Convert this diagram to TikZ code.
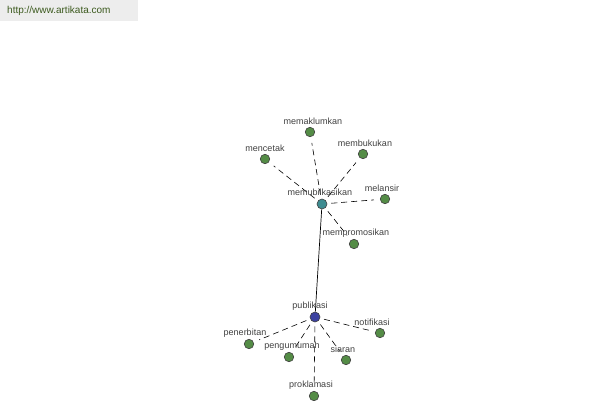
\documentclass[tikz,border=0pt]{standalone}
\usepackage{fontspec}
\setmainfont{Liberation Sans}
\definecolor{leafc}{RGB}{84,140,70}
\definecolor{hubc}{RGB}{62,140,145}
\definecolor{rootc}{RGB}{60,66,160}
\definecolor{urlc}{RGB}{60,90,30}
\begin{document}
\begin{tikzpicture}[x=1pt,y=-1pt,
  leaf/.style={circle,draw=black!75,fill=leafc,line width=0.6pt,minimum size=9.5pt,inner sep=0pt},
  hub/.style={circle,draw=black!75,fill=hubc,line width=0.6pt,minimum size=10pt,inner sep=0pt},
  root/.style={circle,draw=black!75,fill=rootc,line width=0.6pt,minimum size=10pt,inner sep=0pt},
  lbl/.style={font=\fontsize{9}{10}\selectfont,text=black!75,inner sep=0pt},
  dashlink/.style={draw=black,dashed,dash pattern=on 6pt off 4pt,line width=0.6pt,shorten <=4pt,shorten >=6pt},
  solidlink/.style={draw=black,line width=0.7pt}]
\useasboundingbox (0,0) rectangle (600,400);
\fill[black!7] (0,0) rectangle (138,21);
\node[anchor=west,inner sep=0pt,font=\fontsize{10}{11}\selectfont,text=urlc] (url) at (7,11) {http://www.artikata.com};

\node[hub] (h) at (322,204) {};
\node[root] (p) at (315,317) {};
\node[leaf] (a1) at (310,132) {};
\node[leaf] (a2) at (363,154) {};
\node[leaf] (a3) at (265,159) {};
\node[leaf] (a4) at (385,199) {};
\node[leaf] (a5) at (354,244) {};
\node[leaf] (b1) at (249,344) {};
\node[leaf] (b2) at (289,357) {};
\node[leaf] (b3) at (314,396) {};
\node[leaf] (b4) at (346,360) {};
\node[leaf] (b5) at (380,333) {};

\draw[solidlink] (h) -- (p);
\foreach \n in {a1,a2,a3,a4,a5} \draw[dashlink] (h) -- (\n);
\foreach \n in {b1,b2,b3,b4,b5} \draw[dashlink] (p) -- (\n);

\node[lbl] (lh) at (320,192) {memubilkasikan};
\node[lbl] (lp) at (310,306) {publikasi};
\node[lbl] (l1) at (313,121) {memaklumkan};
\node[lbl] (l2) at (365,143) {membukukan};
\node[lbl] (l3) at (265,148) {mencetak};
\node[lbl] (l4) at (382,188) {melansir};
\node[lbl] (l5) at (356,233) {mempromosikan};
\node[lbl] (m1) at (245,333) {penerbitan};
\node[lbl] (m2) at (292,346) {pengumumah};
\node[lbl] (m3) at (311,385) {proklamasi};
\node[lbl] (m4) at (343,349) {siaran};
\node[lbl] (m5) at (372,322) {notifikasi};
\end{tikzpicture}
\end{document}
